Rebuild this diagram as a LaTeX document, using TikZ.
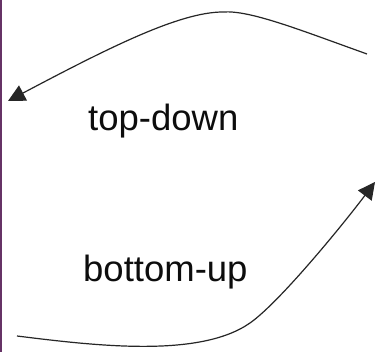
\documentclass[tikz,border=0pt]{standalone}
\usepackage{fontspec}
\setmainfont{Liberation Sans}
\usetikzlibrary{arrows.meta}
\begin{document}
\begin{tikzpicture}[x=1pt,y=1pt,
  curve/.style={line width=1.2pt,draw=black!85,-{Triangle[length=17pt,width=17pt]}},
  lbl/.style={font=\fontsize{36.5}{40}\selectfont,text=black!95,inner sep=0pt,anchor=base west}]
\fill[white] (0,0) rectangle (376,352);
\useasboundingbox (0,0) rectangle (376,352);
\draw[line width=2.4pt,draw=violet!50!black!80] (1.2,0) -- (1.2,352);
\coordinate (tdS) at (367,298);
\coordinate (tdP) at (223,340);
\coordinate (tdE) at (8,251);
\coordinate (buS) at (17,16);
\coordinate (buM) at (250,29);
\coordinate (buE) at (375,170);
\draw[curve] (tdS) .. controls (300,322) and (250,342) .. (tdP)
  .. controls (180,340) and (110,305) .. (tdE);
\draw[curve] (buS) .. controls (97,6) and (200,-6) .. (buM)
  .. controls (280,50) and (345,130) .. (buE);
\node[lbl] (td) at (88,221.3) {top-down};
\node[lbl] (bu) at (83,70.3) {bottom-up};
\end{tikzpicture}
\end{document}
